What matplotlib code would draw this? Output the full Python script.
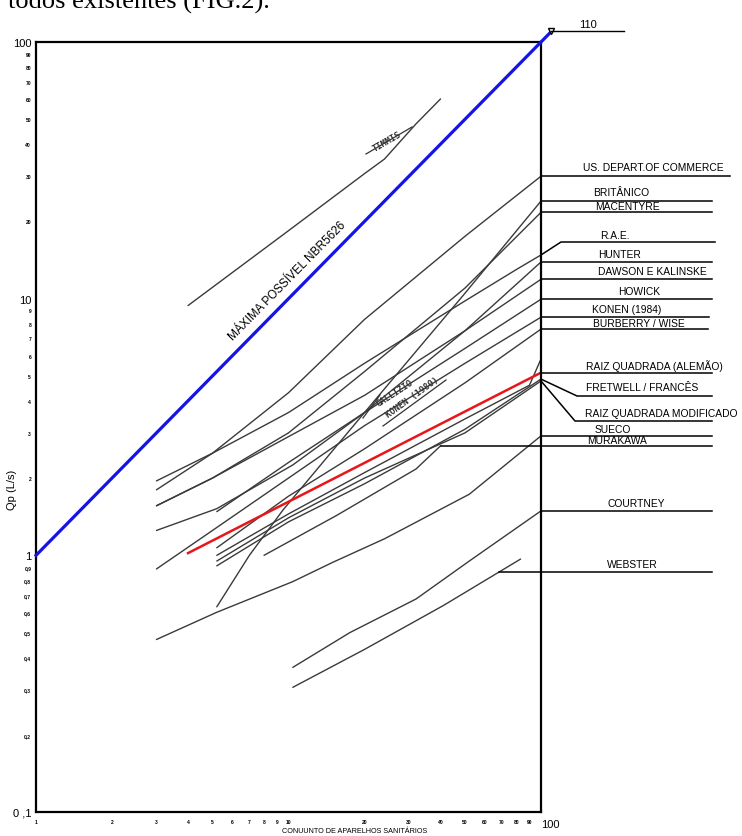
import numpy as np
import matplotlib
matplotlib.use("Agg")
import matplotlib.pyplot as plt
from matplotlib.lines import Line2D

W, H = 742, 837

# ---- axis ticks -------------------------------------------------------------
x_ticks = [1, 2, 3, 4, 5, 6, 7, 8, 9, 10, 20, 30, 40, 50, 60, 70, 80, 90, 100]
x_tick_labels = [str(v) for v in x_ticks]
y_ticks = [0.1, 0.2, 0.3, 0.4, 0.5, 0.6, 0.7, 0.8, 0.9, 1, 2, 3, 4, 5, 6, 7, 8, 9,
           10, 20, 30, 40, 50, 60, 70, 80, 90, 100]
y_tick_labels = ["0 ,1", "0,2", "0,3", "0,4", "0,5", "0,6", "0,7", "0,8", "0,9",
                 "1", "2", "3", "4", "5", "6", "7", "8", "9",
                 "10", "20", "30", "40", "50", "60", "70", "80", "90", "100"]

# ---- series (N = conjunto de aparelhos, Qp in L/s) --------------------------
nbr_x = [1, 110]
nbr_y = [1, 110]

timmis_x = [4, 10, 20, 24, 32, 40]
timmis_y = [9.4, 18.4, 30.7, 35, 48, 60]

us_x = [3, 5, 10, 20, 50, 100]
us_y = [1.80, 2.5, 4.3, 8.3, 17.5, 30.0]

brit_x = [5.2, 7, 9.5, 20, 50, 100]
brit_y = [0.63, 1.0, 1.5, 3.6, 10.5, 24.0]

macentyre_x = [3, 5, 10, 20, 50, 100]
macentyre_y = [1.56, 2.0, 3.0, 5.2, 11.0, 21.7]

rae_x = [3, 5, 10, 20, 50, 80, 100]
rae_y = [1.95, 2.5, 3.6, 5.6, 9.8, 13.0, 14.8]

hunter_x = [3, 5.2, 10.4, 20, 50, 100]
hunter_y = [1.25, 1.52, 2.25, 3.6, 7.5, 13.9]

dawson_x = [3, 5, 10, 20, 50, 100]
dawson_y = [1.56, 2.0, 2.9, 4.2, 7.5, 11.9]

howick_x = [5.2, 10, 20, 50, 100]
howick_y = [1.48, 2.3, 3.6, 6.4, 9.95]

konen84_x = [3, 5, 10, 20, 50, 100]
konen84_y = [0.885, 1.25, 2.0, 3.2, 5.6, 8.47]

burberry_x = [5.2, 10, 20, 50, 100]
burberry_y = [1.07, 1.7, 2.6, 4.7, 7.61]

gallizio_x = [5.2, 10, 20, 50, 90, 100]
gallizio_y = [1.0, 1.45, 2.1, 3.4, 4.6, 5.82]

raiz_x = [4, 100]
raiz_y = [1.02, 5.15]

fretwell_x = [5.2, 10, 20, 50, 100]
fretwell_y = [0.91, 1.35, 1.9, 3.1, 4.86]

rqm_x = [5.2, 10, 20, 50, 100]
rqm_y = [0.95, 1.4, 2.0, 3.0, 4.78]

sueco_x = [3, 5.2, 10.4, 15, 24, 52, 100]
sueco_y = [0.47, 0.60, 0.79, 0.94, 1.16, 1.73, 2.92]

murakawa_x = [8, 15.5, 32, 40]
murakawa_y = [1.0, 1.43, 2.17, 2.67]

courtney_x = [10.4, 17.5, 32, 52, 100]
courtney_y = [0.366, 0.50, 0.676, 0.95, 1.49]

webster_x = [10.4, 20, 41, 83]
webster_y = [0.306, 0.43, 0.637, 0.967]

# ---- figure -----------------------------------------------------------------
fig = plt.figure(figsize=(W / 100, H / 100), dpi=100)
fig.patch.set_facecolor("white")
ax = fig.add_axes([36 / W, 1 - 813 / H, (541 - 36) / W, (813 - 43) / H])
ax.set_xscale("log")
ax.set_yscale("log")
ax.set_xlim(1, 100)
ax.set_ylim(0.1, 100)
for s in ax.spines.values():
    s.set_linewidth(1.6)
    s.set_color("black")

ax.set_xticks(x_ticks)
ax.set_xticklabels(x_tick_labels)
ax.set_yticks(y_ticks)
ax.set_yticklabels(y_tick_labels)
ax.minorticks_off()
ax.tick_params(length=0)
ax.tick_params(axis="x", pad=5)
ax.tick_params(axis="y", pad=3.5)
for lbl, v in zip(ax.get_xticklabels(), x_ticks):
    lbl.set_fontfamily("Liberation Sans")
    if v == 100:
        lbl.set_fontsize(8)
        lbl.set_horizontalalignment("left")
    else:
        lbl.set_fontsize(3.6)
        lbl.set_fontweight("bold")
for lbl, v in zip(ax.get_yticklabels(), y_ticks):
    lbl.set_fontfamily("Liberation Sans")
    if v in (0.1, 1, 10, 100):
        lbl.set_fontsize(8)
    else:
        lbl.set_fontsize(3.6)
        lbl.set_fontweight("bold")

gray = "#3a3a3a"
curves = [
    (timmis_x, timmis_y), (us_x, us_y), (brit_x, brit_y),
    (macentyre_x, macentyre_y), (rae_x, rae_y), (hunter_x, hunter_y),
    (dawson_x, dawson_y), (howick_x, howick_y), (konen84_x, konen84_y),
    (burberry_x, burberry_y), (gallizio_x, gallizio_y),
    (fretwell_x, fretwell_y), (rqm_x, rqm_y), (sueco_x, sueco_y),
    (murakawa_x, murakawa_y), (courtney_x, courtney_y), (webster_x, webster_y),
]
for cx, cy in curves:
    ax.plot(cx, cy, color=gray, lw=1.0, solid_capstyle="round")

ax.plot(raiz_x, raiz_y, color="#e8161a", lw=1.8)
ax.plot(nbr_x, nbr_y, color="#1414e6", lw=2.3, clip_on=False, zorder=5)

# end marker of the NBR line
ax.plot([nbr_x[-1]], [nbr_y[-1]], marker="v", ms=5, mfc="white", mec="black",
        mew=1.0, clip_on=False, zorder=6)


def to_px(x, y):
    d = ax.transData.transform((x, y))
    return d[0], H - d[1]


def fig_line(pts, **kw):
    xs = [p[0] / W for p in pts]
    ys = [1 - p[1] / H for p in pts]
    fig.add_artist(Line2D(xs, ys, transform=fig.transFigure, **kw))


def fig_text(px, py, s, **kw):
    fig.text(px / W, 1 - py / H, s, **kw)


# "110" tag on the NBR line
ex, ey = to_px(nbr_x[-1], nbr_y[-1])
fig_line([(ex, ey), (624, ey)], color="black", lw=1.0)
fig_text(588, ey - 7, "110", ha="center", va="center", fontsize=8,
         family="Liberation Sans")

ax.text(10.3, 11.4, "MÁXIMA POSSÍVEL NBR5626", rotation=45.5,
        rotation_mode="anchor", ha="center", va="bottom", fontsize=8.5,
        family="Liberation Sans")

# handwritten notes along the curves
hand = dict(family="DejaVu Sans Mono", fontweight="bold", fontsize=6.3,
            color="#333333", rotation_mode="anchor", ha="center", va="bottom")
fig_text(389, 146, "TIMMIS", rotation=30, **hand)
fig_line([(366, 155), (412, 128)], color="#333333", lw=0.9)
fig_text(397, 397, "GALLIZIO", rotation=33, **hand)
fig_text(415, 401, "KONEN (1980)", rotation=36, **hand)
fig_line([(383, 427), (446, 381)], color="#333333", lw=0.9)
fig_line([(380, 396), (363, 419)], color="#333333", lw=0.9)

# labels on the right, joined to the curve ends
lab = dict(ha="left", va="center", fontsize=7.4, family="Liberation Sans")


def leader(text, cx, cy, right, tx, ty, bend=None, at=None):
    if at is None:
        sx, sy = to_px(cx[-1], cy[-1])
    else:
        lx = np.log10(cx)
        ly = np.log10(cy)
        sx, sy = to_px(at, 10 ** np.interp(np.log10(at), lx, ly))
    if bend is None:
        pts = [(sx, sy), (right, sy)]
    else:
        pts = [(sx, sy), bend, (right, bend[1])]
    fig_line(pts, color="black", lw=1.1)
    fig_text(tx, ty, text, **lab)


leader("US. DEPART.OF COMMERCE", us_x, us_y, 730, 583, 168)
leader("BRITÂNICO", brit_x, brit_y, 712, 593, 193)
leader("MACENTYRE", macentyre_x, macentyre_y, 712, 595, 207)
leader("R.A.E.", rae_x, rae_y, 715, 600, 236, bend=(561, 243))
leader("HUNTER", hunter_x, hunter_y, 712, 598, 255)
leader("DAWSON E KALINSKE", dawson_x, dawson_y, 712, 598, 272)
leader("HOWICK", howick_x, howick_y, 712, 618, 292)
leader("KONEN (1984)", konen84_x, konen84_y, 709, 592, 310)
leader("BURBERRY / WISE", burberry_x, burberry_y, 708, 593, 324)
leader("RAIZ QUADRADA (ALEMÃO)", raiz_x, raiz_y, 712, 586, 366)
leader("FRETWELL / FRANCÊS", fretwell_x, fretwell_y, 712, 586, 388,
       bend=(577, 397))
leader("RAIZ QUADRADA MODIFICADO", rqm_x, rqm_y, 712, 585, 414,
       bend=(575, 422))
leader("SUECO", sueco_x, sueco_y, 712, 595, 430)
leader("MURAKAWA", murakawa_x, murakawa_y, 712, 587, 441)
leader("COURTNEY", courtney_x, courtney_y, 712, 607, 504)
leader("WEBSTER", webster_x, webster_y, 712, 607, 565, at=68)

# axis titles
fig_text(12, 490, "Qp (L/s)", rotation=90, ha="center", va="center",
         fontsize=8, family="Liberation Sans")
fig_text(355, 832, "CONUUNTO DE APARELHOS SANITÁRIOS", ha="center",
         va="center", fontsize=5.2, family="Liberation Sans")

# running text of the page above the figure
fig_text(8, 9, "todos existentes (FIG.2).", ha="left", va="baseline",
         fontsize=19, family="Liberation Serif")

fig.savefig("out.png", dpi=100)
